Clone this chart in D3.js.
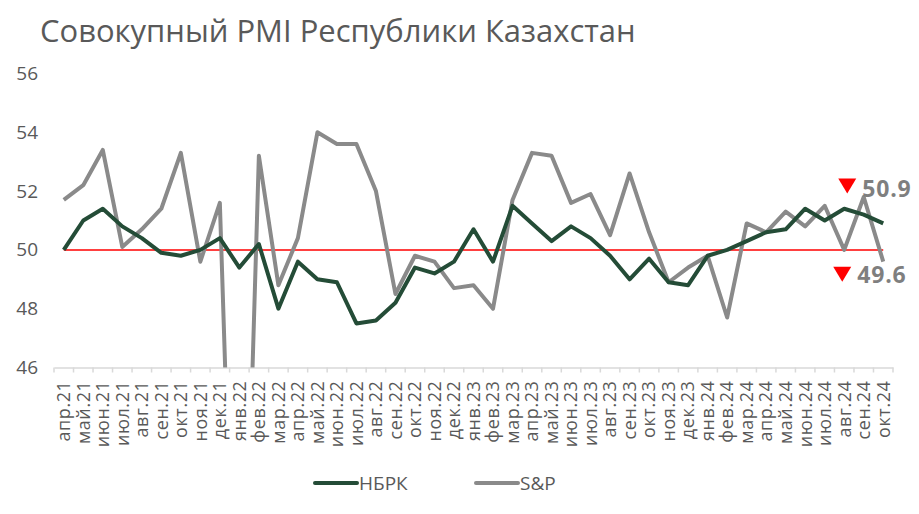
<!DOCTYPE html>
<html><head><meta charset="utf-8">
<script src="https://cdn.jsdelivr.net/npm/d3@7"></script>
<style>
html,body{margin:0;padding:0;background:#fff;}
svg{display:block;font-family:"Open Sans",sans-serif;}
</style></head>
<body>
<svg id="c" width="919" height="514"></svg>
<script>
const title = "Совокупный PMI Республики Казахстан";
const categories = ["апр.21","май.21","июн.21","июл.21","авг.21","сен.21","окт.21","ноя.21","дек.21",
"янв.22","фев.22","мар.22","апр.22","май.22","июн.22","июл.22","авг.22","сен.22","окт.22","ноя.22","дек.22",
"янв.23","фев.23","мар.23","апр.23","май.23","июн.23","июл.23","авг.23","сен.23","окт.23","ноя.23","дек.23",
"янв.24","фев.24","мар.24","апр.24","май.24","июн.24","июл.24","авг.24","сен.24","окт.24"];
const nbrk = [50.0,51.0,51.4,50.8,50.4,49.9,49.8,50.0,50.4,
49.4,50.2,48.0,49.6,49.0,48.9,47.5,47.6,48.2,49.4,49.2,49.6,
50.7,49.6,51.5,50.9,50.3,50.8,50.4,49.8,49.0,49.7,48.9,48.8,
49.8,50.0,50.3,50.6,50.7,51.4,51.0,51.4,51.2,50.9];
const sp = [51.7,52.2,53.4,50.1,50.7,51.4,53.3,49.6,51.6,
31.0,53.2,48.8,50.4,54.0,53.6,53.6,52.0,48.5,49.8,49.6,48.7,
48.8,48.0,51.7,53.3,53.2,51.6,51.9,50.5,52.6,50.6,48.9,49.4,
49.8,47.7,50.9,50.6,51.3,50.8,51.5,50.0,51.8,49.6];
const yTicks = [46,48,50,52,54,56];
const seriesNames = ["НБРК","S&P"];
const colors = ["#244c37","#8a8a8a"];
const threshold = 50;

const svg = d3.select("#c");
const textColor = "#595959";

const x = d3.scaleBand().domain(categories).range([54, 893]).padding(0);
const y = d3.scaleLinear().domain([46,56]).range([367.5, 73.5]);
const cx = d => x(d) + x.bandwidth()/2;

// title
const t = svg.append("text").attr("x",40).attr("y",42).attr("fill",textColor)
  .attr("font-size",28).text(title);
const tw = t.node().getComputedTextLength();
t.attr("font-size", 28*596/tw);

// y axis labels
const yAxis = d3.axisLeft(y).tickValues(yTicks).tickSize(0).tickPadding(0);
const ga = svg.append("g").attr("transform","translate(38,0)").call(yAxis);
ga.select(".domain").remove();
ga.selectAll("text").attr("fill",textColor).attr("font-size",19).attr("font-family","Open Sans");

// x axis
const xAxis = d3.axisBottom(x).tickSize(0).tickPadding(0);
const gx = svg.append("g").attr("transform",`translate(0,${y(46)})`).call(xAxis);
gx.select(".domain").attr("stroke","#d9d9d9").attr("stroke-width",1.5);
gx.selectAll("text").attr("fill",textColor).attr("font-size",18).attr("font-family","Open Sans")
  .attr("letter-spacing","0.6").attr("text-anchor","end").attr("dy","0.35em")
  .attr("transform","translate(0,13) rotate(-90)").attr("x",0).attr("y",0);
// boundary ticks
const bounds = categories.map(c=>x(c)).concat([x(categories[categories.length-1])+x.bandwidth()]);
svg.append("g").selectAll("line").data(bounds).join("line")
  .attr("x1",d=>d).attr("x2",d=>d).attr("y1",y(46)).attr("y2",y(46)+5)
  .attr("stroke","#d9d9d9").attr("stroke-width",1.5);

// clip
svg.append("clipPath").attr("id","plot").append("rect")
  .attr("x",40).attr("y",y(56)-10).attr("width",870).attr("height",y(46)-y(56)+10);

const line = d3.line().x((d,i)=>cx(categories[i])).y(d=>y(d));
const g = svg.append("g").attr("clip-path","url(#plot)");
g.append("line").attr("x1",cx(categories[0])).attr("x2",cx(categories[categories.length-1]))
  .attr("y1",y(threshold)).attr("y2",y(threshold)).attr("stroke","#ff0000").attr("stroke-width",1.5);
g.append("path").datum(sp).attr("d",line).attr("fill","none").attr("stroke",colors[1])
  .attr("stroke-width",4).attr("stroke-linejoin","round");
g.append("path").datum(nbrk).attr("d",line).attr("fill","none").attr("stroke",colors[0])
  .attr("stroke-width",4).attr("stroke-linejoin","round");

// annotations
const lastX = cx(categories[categories.length-1]);
const lastN = nbrk[nbrk.length-1], lastS = sp[sp.length-1];
function tri(xc, ytop){
  svg.append("path").attr("d",`M${xc-9},${ytop} L${xc+9},${ytop} L${xc},${ytop+15} Z`).attr("fill","#ff0000");
}
const a1y = y(lastN) - 26;
tri(lastX-36, a1y-19);
svg.append("text").attr("x",lastX-21).attr("y",a1y).attr("fill","#7f7f7f").attr("font-size",23)
  .attr("letter-spacing","0.8").attr("font-weight","bold").text(lastN.toFixed(1));
const a2y = y(lastS) + 21;
tri(lastX-41, a2y-16);
svg.append("text").attr("x",lastX-26).attr("y",a2y).attr("fill","#7f7f7f").attr("font-size",23)
  .attr("letter-spacing","0.8").attr("font-weight","bold").text(lastS.toFixed(1));

// legend
const leg = [{n:seriesNames[0],c:colors[0],x:315},{n:seriesNames[1],c:colors[1],x:476}];
leg.forEach(l=>{
  svg.append("line").attr("x1",l.x).attr("x2",l.x+42).attr("y1",483).attr("y2",483)
    .attr("stroke",l.c).attr("stroke-width",4).attr("stroke-linecap","round");
  svg.append("text").attr("x",l.x+44).attr("y",490).attr("fill",textColor).attr("font-size",19).text(l.n);
});
</script>
</body></html>
